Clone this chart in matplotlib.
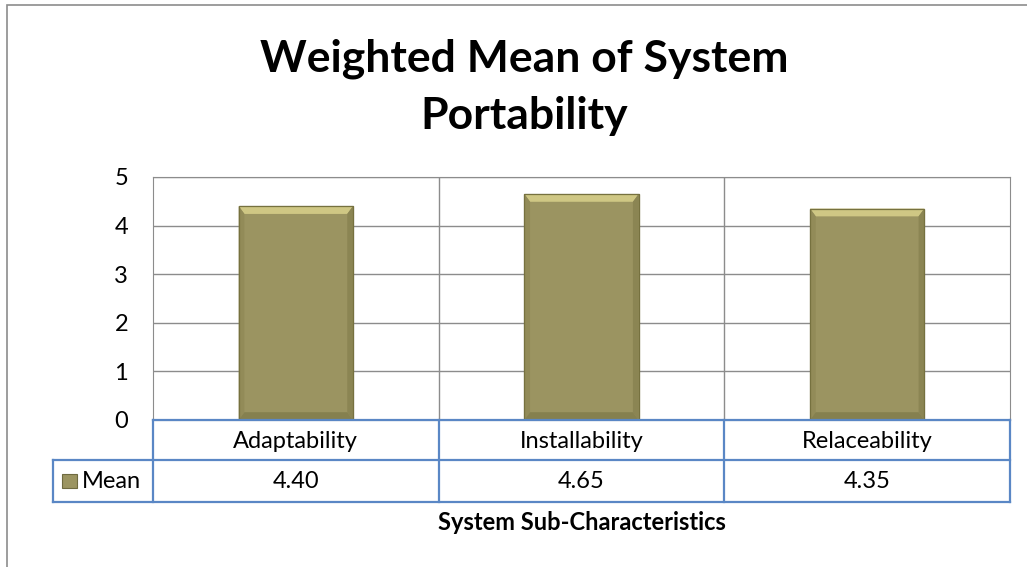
import numpy as np
import matplotlib.pyplot as plt
from matplotlib.patches import Rectangle, Polygon

categories = ['Adaptability', 'Installability', 'Relaceability']
means = [4.40, 4.65, 4.35]
value_labels = ['4.40', '4.65', '4.35']
series_name = 'Mean'

plt.rcParams['font.family'] = ['Lato', 'DejaVu Sans']

W, H = 1027, 567
fig = plt.figure(figsize=(W / 100, H / 100), dpi=100)

# outer chart frame (gray)
fig.add_artist(Rectangle((7 / W, -0.1), 1.2, 1 - 5 / H + 0.1, transform=fig.transFigure,
                         fill=False, edgecolor='#8c8c8c', linewidth=1.2))

ax = fig.add_axes([153 / W, 1 - 420 / H, 857 / W, 243 / H])
n = len(categories)
x = np.arange(n)
ax.set_xlim(-0.5, n - 0.5)
ax.set_ylim(0, 5)

# grid
for yv in range(1, 6):
    ax.axhline(yv, color='#8c8c8c', linewidth=1, zorder=1)
for xv in np.arange(0.5, n - 0.5, 1):
    ax.axvline(xv, color='#8c8c8c', linewidth=1, zorder=1)
for s in ax.spines.values():
    s.set_color('#8c8c8c')

bw = 0.4
base = '#9b9461'
bars = ax.bar(x, means, width=bw, color=base, edgecolor='#6e6a40', linewidth=0.8, zorder=3)

# bevel effect
bx, by = 0.02, 0.16
for b in bars:
    x0, x1 = b.get_x(), b.get_x() + b.get_width()
    h = b.get_height()
    ax.add_patch(Polygon([(x0, h), (x1, h), (x1 - bx, h - by), (x0 + bx, h - by)],
                         closed=True, color='#cfc784', zorder=4, linewidth=0))
    ax.add_patch(Polygon([(x0, h), (x0 + bx, h - by), (x0 + bx, by), (x0, 0)],
                         closed=True, color='#928b58', zorder=4, linewidth=0))
    ax.add_patch(Polygon([(x1, h), (x1 - bx, h - by), (x1 - bx, by), (x1, 0)],
                         closed=True, color='#8b8553', zorder=4, linewidth=0))
    ax.add_patch(Polygon([(x0, 0), (x1, 0), (x1 - bx, by), (x0 + bx, by)],
                         closed=True, color='#85804f', zorder=4, linewidth=0))
    ax.add_patch(Rectangle((x0, 0), b.get_width(), h, fill=False,
                           edgecolor='#76713f', linewidth=0.9, zorder=5))

ax.set_yticks(range(0, 6))
ax.tick_params(axis='y', length=0, labelsize=17, pad=18)
ax.set_xticks([])

# data table below axes
blue = '#5a87c5'
r1 = -40 / 243
r2 = -82 / 243
left = -100 / 857
tr = ax.transAxes
kw = dict(color=blue, linewidth=1.6, transform=tr, clip_on=False, zorder=6)
ax.plot([0, 1], [0, 0], **kw)
ax.plot([left, 1], [r1, r1], **kw)
ax.plot([left, 1], [r2, r2], **kw)
ax.plot([left, left], [r1, r2], **kw)
for i in range(n + 1):
    ax.plot([i / n, i / n], [0, r2], **kw)

for i in range(n):
    ax.text((i + 0.5) / n, r1 / 2 - 0.006, categories[i], transform=tr, ha='center',
            va='center', fontsize=17)
    ax.text((i + 0.5) / n, (r1 + r2) / 2, value_labels[i], transform=tr, ha='center',
            va='center', fontsize=17)

# legend key in table
ax.add_patch(Rectangle((-91 / 857, (r1 + r2) / 2 - 7 / 243), 15 / 857, 14 / 243,
                       transform=tr, clip_on=False, facecolor=base, edgecolor='#6e6a40',
                       linewidth=0.8, zorder=7))
ax.text(-71 / 857, (r1 + r2) / 2, series_name, transform=tr, ha='left', va='center',
        fontsize=17)

fig.text(582 / W, 1 - 522 / H, 'System Sub-Characteristics', ha='center', va='center',
         fontsize=17, fontweight='bold')
fig.text(524 / W, 1 - 87 / H, 'Weighted Mean of System\nPortability', ha='center',
         va='center', fontsize=32, fontweight='bold', linespacing=1.5)

fig.savefig('out.png', dpi=100)
